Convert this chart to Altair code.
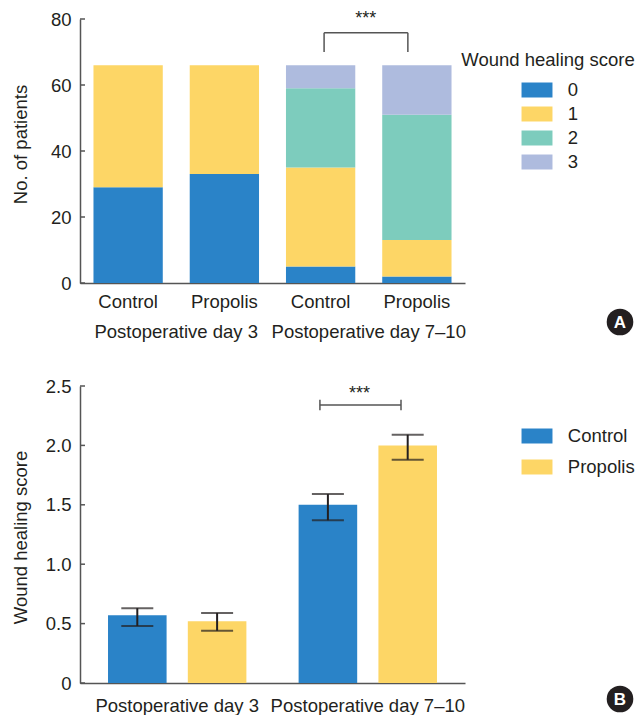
import altair as alt
import pandas as pd

FONT = "Liberation Sans"
TXT = "#231f20"
AX = "#555555"
FS = 18.5

# ---------------- data: panel A ----------------
periods = ["Postoperative day 3", "Postoperative day 3",
           "Postoperative day 7–10", "Postoperative day 7–10"]
groups = ["Control", "Propolis", "Control", "Propolis"]
score0 = [29, 33, 5, 2]
score1 = [37, 33, 30, 11]
score2 = [0, 0, 24, 38]
score3 = [0, 0, 7, 15]
score_labels = ["0", "1", "2", "3"]
score_colors = ["#2a83c8", "#fdd666", "#7dccbd", "#aebbde"]
count_ticks = [0, 20, 40, 60, 80]
period_names = ["Postoperative day 3", "Postoperative day 7–10"]
legend_title_A = ["Wound healing score"]

# ---------------- data: panel B ----------------
mean_score = [0.57, 0.52, 1.50, 2.00]
err_low = [0.48, 0.44, 1.37, 1.88]
err_high = [0.63, 0.59, 1.59, 2.09]
group_names = ["Control", "Propolis"]
group_colors = ["#2a83c8", "#fdd666"]
score_ticks = [0, 0.5, 1.0, 1.5, 2.0, 2.5]

# significance annotations
sig_text = ["***"]
sigA_bracket = [75.8]
sigA_leg = [70]
sigA_star = [80]
sigB_bracket = [2.34]
sigB_end = [2.295, 2.385]
sigB_star = [2.43]

keys = [g + "|" + p for g, p in zip(groups, periods)]
rows = []
for i, k in enumerate(keys):
    for s, vals in zip(score_labels, [score0, score1, score2, score3]):
        rows.append({"key": k, "score": s, "ord": int(s), "count": vals[i]})
dfA = pd.DataFrame(rows)

WA, HA = 385, 264
WB, HB = 385, 297
SYM = "M-1.29,-0.625H1.29V0.625H-1.29Z"
LEGX = 445
CIRX = 540

xs_A = alt.Scale(domain=keys, paddingInner=0.28, paddingOuter=0.14)
xaxis_A = alt.Axis(title=None, labelExpr="split(datum.value,'|')[0]", ticks=False, orient="bottom",
                   labelPadding=9, labelAngle=0, domainColor=AX, domainWidth=1.5)
ys_A = alt.Scale(domain=[0, 80], nice=False, zero=True)
yaxis_A = alt.Axis(values=count_ticks, title="No. of patients", ticks=False, labelPadding=9,
                   titleX=-60, titleY=125, titleAngle=270, titleBaseline="middle",
                   titleAlign="center", domainColor=AX, domainWidth=1.5)

def XA(field, bp=None):
    if bp is None:
        return alt.X(field, type="nominal", scale=xs_A, axis=xaxis_A, sort=keys)
    return alt.X(field, type="nominal", scale=xs_A, axis=xaxis_A, sort=keys, bandPosition=bp)

def YA(field):
    return alt.Y(field, type="quantitative", scale=ys_A, axis=yaxis_A)

barsA = alt.Chart(dfA).mark_bar().encode(
    x=XA("key"),
    y=alt.Y("count:Q", stack="zero", scale=ys_A, axis=yaxis_A),
    color=alt.Color("score:N", scale=alt.Scale(domain=score_labels, range=score_colors),
                    legend=alt.Legend(orient="none", legendX=LEGX, legendY=59, title=None,
                                      symbolType=SYM, symbolSize=576, symbolStrokeWidth=0,
                                      symbolOpacity=1, labelOffset=18.8, rowPadding=2)),
    order=alt.Order("ord:Q", sort="ascending"),
)

ticksA = alt.Chart(pd.DataFrame({"v": count_ticks})).mark_rule(color=AX, strokeWidth=1.5).encode(
    x=alt.value(0), x2=alt.value(5), y=YA("v"))

brA = pd.DataFrame({"k1": [keys[2]], "k2": [keys[3]], "y": sigA_bracket, "yl": sigA_leg,
                    "ys": sigA_star, "t": sig_text})
bracketA = alt.Chart(brA).mark_rule(color=AX, strokeWidth=1.5).encode(
    x=XA("k1", 0.55), x2=alt.X2("k2", bandPosition=0.37), y=YA("y"))
legA1 = alt.Chart(brA).mark_rule(color=AX, strokeWidth=1.5).encode(
    x=XA("k1", 0.55), y=YA("yl"), y2="y")
legA2 = alt.Chart(brA).mark_rule(color=AX, strokeWidth=1.5).encode(
    x=XA("k2", 0.37), y=YA("yl"), y2="y")
starsA = alt.Chart(brA).mark_text(font=FONT, fontSize=18, color=TXT, baseline="middle",
                                  dx=-16.6).encode(
    x=XA("k2", 0), y=YA("ys"), text="t:N")

legTitleA = alt.Chart(pd.DataFrame({"t": legend_title_A})).mark_text(
    font=FONT, fontSize=FS, color=TXT, baseline="middle", align="center").encode(
    x=alt.value(468), y=alt.value(41), text="t:N")

panelA = alt.Chart(pd.DataFrame({"p": ["A"]}))
circA = panelA.mark_circle(size=707, color=TXT, opacity=1).encode(
    x=alt.value(CIRX), y=alt.value(303))
letA = panelA.mark_text(font=FONT, fontSize=17, fontWeight="bold", color="white",
                        baseline="middle", align="center").encode(
    x=alt.value(CIRX), y=alt.value(303.8), text="p:N")

grpA = alt.Chart(pd.DataFrame({"period": period_names})).mark_rule(opacity=0).encode(
    x=alt.X("period:N", sort=period_names,
            scale=alt.Scale(domain=period_names, paddingInner=0, paddingOuter=0),
            axis=alt.Axis(orient="bottom", title=None, domain=False, ticks=False,
                          labelPadding=39, labelAngle=0, labelLimit=400)),
    y=alt.value(HA), y2=alt.value(HA))

top = alt.layer(
    alt.layer(barsA, ticksA, bracketA, legA1, legA2, starsA, legTitleA, circA, letA),
    grpA,
).resolve_scale(x="independent").properties(width=WA, height=HA)

# ---------------- panel B ----------------
dfB = pd.DataFrame({"period": periods, "group": groups, "mean": mean_score,
                    "lo": err_low, "hi": err_high})

xs_B = alt.Scale(domain=period_names, paddingInner=0.274, paddingOuter=0.147)
xaxis_B = alt.Axis(title=None, ticks=False, labelPadding=13, labelAngle=0, labelLimit=400,
                   domainColor=AX, domainWidth=1.5)
xo_B = alt.XOffset("group:N", sort=group_names,
                   scale=alt.Scale(domain=group_names, paddingInner=0.266, paddingOuter=0))
ys_B = alt.Scale(domain=[0, 2.5], nice=False, zero=True)
yaxis_B = alt.Axis(values=score_ticks, title="Wound healing score", ticks=False, labelPadding=9,
                   labelExpr="datum.value == 0 ? '0' : format(datum.value, '.1f')",
                   titleX=-60, titleY=151, titleAngle=270, titleBaseline="middle",
                   titleAlign="center", domainColor=AX, domainWidth=1.5)

def XB(field, bp=None):
    if bp is None:
        return alt.X(field, type="nominal", scale=xs_B, axis=xaxis_B, sort=period_names)
    return alt.X(field, type="nominal", scale=xs_B, axis=xaxis_B, sort=period_names, bandPosition=bp)

def YB(field):
    return alt.Y(field, type="quantitative", scale=ys_B, axis=yaxis_B)

barsB = alt.Chart(dfB).mark_bar().encode(
    x=XB("period"), xOffset=xo_B, y=YB("mean"),
    color=alt.Color("group:N", scale=alt.Scale(domain=group_names, range=group_colors),
                    legend=alt.Legend(orient="none", legendX=LEGX, legendY=38, title=None,
                                      symbolType=SYM, symbolSize=576, symbolStrokeWidth=0,
                                      symbolOpacity=1, labelOffset=18.8, rowPadding=9)),
)
errB = alt.Chart(dfB).mark_rule(color=TXT, strokeWidth=2).encode(
    x=XB("period"), xOffset=xo_B, y=YB("lo"), y2="hi")
capHi = alt.Chart(dfB).mark_tick(color=TXT, size=32, thickness=2, orient="horizontal").encode(
    x=XB("period"), xOffset=xo_B, y=YB("hi"))
capLo = alt.Chart(dfB).mark_tick(color=TXT, size=32, thickness=2, orient="horizontal").encode(
    x=XB("period"), xOffset=xo_B, y=YB("lo"))

ticksB = alt.Chart(pd.DataFrame({"v": score_ticks})).mark_rule(color=AX, strokeWidth=1.5).encode(
    x=alt.value(0), x2=alt.value(5), y=YB("v"))

brB = pd.DataFrame({"period": [period_names[1]], "y": sigB_bracket, "e0": [sigB_end[0]],
                    "e1": [sigB_end[1]], "ys": sigB_star, "t": sig_text})
bracketB = alt.Chart(brB).mark_rule(color=AX, strokeWidth=1.5).encode(
    x=XB("period", 0.154), x2=alt.X2("period", bandPosition=0.74), y=YB("y"))
endB1 = alt.Chart(brB).mark_rule(color=AX, strokeWidth=1.5).encode(
    x=XB("period", 0.154), y=YB("e0"), y2="e1")
endB2 = alt.Chart(brB).mark_rule(color=AX, strokeWidth=1.5).encode(
    x=XB("period", 0.74), y=YB("e0"), y2="e1")
starsB = alt.Chart(brB).mark_text(font=FONT, fontSize=18, color=TXT, baseline="middle").encode(
    x=XB("period", 0.44), y=YB("ys"), text="t:N")

panelB = alt.Chart(pd.DataFrame({"p": ["B"]}))
circB = panelB.mark_circle(size=707, color=TXT, opacity=1).encode(
    x=alt.value(CIRX), y=alt.value(313))
letB = panelB.mark_text(font=FONT, fontSize=17, fontWeight="bold", color="white",
                        baseline="middle", align="center").encode(
    x=alt.value(CIRX), y=alt.value(313.8), text="p:N")

bottom = alt.layer(barsB, errB, capHi, capLo, ticksB, bracketB, endB1, endB2, starsB,
                   circB, letB).properties(width=WB, height=HB)

chart = alt.vconcat(top, bottom, spacing=36).resolve_scale(color="independent").properties(
    padding={"left": 3, "top": 2, "right": 0, "bottom": 0}
).configure_view(stroke=None).configure_axis(
    labelFont=FONT, labelFontSize=FS, labelColor=TXT,
    titleFont=FONT, titleFontSize=FS, titleFontWeight="normal", titleColor=TXT,
    grid=False,
).configure_legend(
    labelFont=FONT, labelFontSize=FS, labelColor=TXT,
    titleFont=FONT, titleFontSize=FS, titleFontWeight="normal", titleColor=TXT,
)

chart.save("out.html", embed_options={"renderer": "svg", "actions": False})
